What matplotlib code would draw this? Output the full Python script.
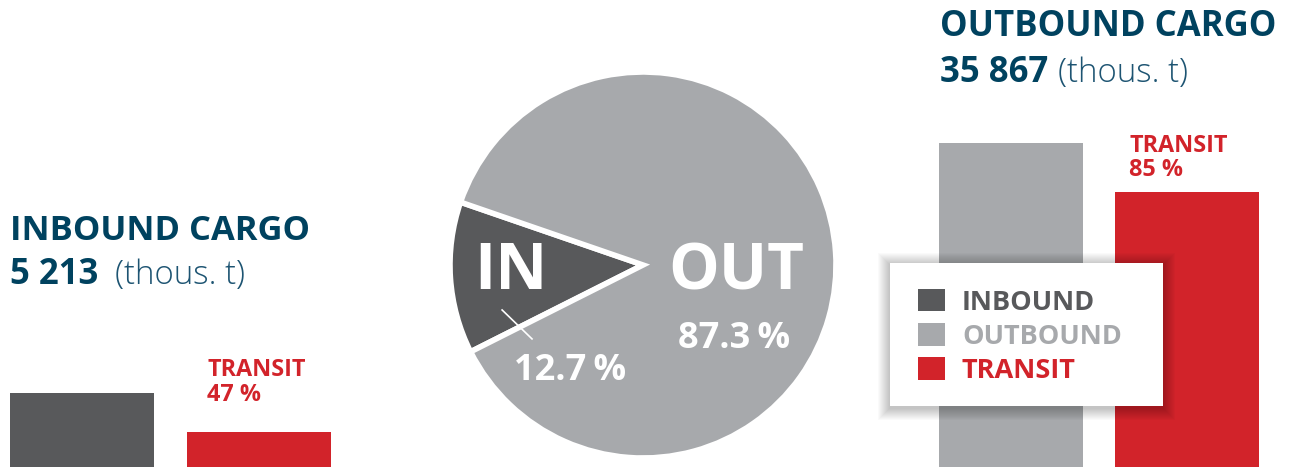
import matplotlib
matplotlib.use("Agg")
import matplotlib.pyplot as plt
from matplotlib.patches import Patch, FancyBboxPatch
from matplotlib.lines import Line2D

plt.rcParams['font.family'] = ['Open Sans', 'DejaVu Sans']

# data (thous. t)
inbound_total = 5213
outbound_total = 35867
inbound_transit_pct = 47
outbound_transit_pct = 85
share_labels = ['IN', 'OUT']
share_values = [12.7, 87.3]

inbound_bars = [inbound_total, inbound_total * inbound_transit_pct / 100]
outbound_bars = [outbound_total, outbound_total * outbound_transit_pct / 100]

navy = '#00425f'
navy_light = '#1d5472'
red = '#d2232a'
dark = '#58595b'
light = '#a7a9ac'

W, H = 1294, 467
fig = plt.figure(figsize=(W / 100, H / 100), dpi=100)

def fx(px):
    return px / W

def fy(py):
    return 1 - py / H

# left bars
axl = fig.add_axes([fx(10), 0, fx(321), 1])
axl.bar([0, 1], inbound_bars, width=144 / 177, color=[dark, red])
axl.set_xlim(-0.5 * 144 / 177, 1 + 0.5 * 144 / 177)
axl.set_ylim(0, inbound_total * H / 74)
axl.axis('off')

# right bars
axr = fig.add_axes([fx(939), 0, fx(320), 1])
axr.bar([0, 1], outbound_bars, width=144 / 176, color=[light, red])
axr.set_xlim(-0.5 * 144 / 176, 1 + 0.5 * 144 / 176)
axr.set_ylim(0, outbound_total * H / 324)
axr.axis('off')

# pie
r = 193
axp = fig.add_axes([fx(643 - r), fy(265 + r), fx(2 * r), 2 * r / H])
axp.pie(share_values, colors=[dark, light], startangle=161, counterclock=True,
        wedgeprops=dict(edgecolor='white', linewidth=4))
axp.set_xlim(-1, 1)
axp.set_ylim(-1, 1)
axp.set_aspect('auto')
axp.axis('off')

axp.text(-0.685, -0.04, share_labels[0], color='white', fontsize=46, fontweight='bold',
         ha='center', va='center')
axp.text(0.485, -0.04, share_labels[1], color='white', fontsize=46, fontweight='bold',
         ha='center', va='center')
axp.text(0.47, -0.43, f'{share_values[1]}\u2009%', color='white', fontsize=26,
         fontweight='bold', ha='center', va='baseline')
axp.text(-0.38, -0.595, f'{share_values[0]}\u2009%', color='white', fontsize=26,
         fontweight='bold', ha='center', va='baseline')
axp.add_line(Line2D([-0.73, -0.575], [-0.233, -0.383], color='white', lw=1.2))

# titles
fig.text(fx(10), fy(240), 'INBOUND CARGO', color=navy, fontsize=24.8, fontweight='bold', va='baseline')
fig.text(fx(10), fy(284), f'{inbound_total:,}'.replace(',', ' '), color=navy, fontsize=25,
         fontweight='bold', va='baseline')
fig.text(fx(115), fy(284), '(thous. t)', color=navy_light, fontsize=23.8, fontweight='light',
         va='baseline')
fig.text(fx(940), fy(36), 'OUTBOUND CARGO', color=navy, fontsize=25, fontweight='bold', va='baseline')
fig.text(fx(940), fy(82), f'{outbound_total:,}'.replace(',', ' '), color=navy, fontsize=25,
         fontweight='bold', va='baseline')
fig.text(fx(1058), fy(82), '(thous. t)', color=navy_light, fontsize=23.8, fontweight='light',
         va='baseline')

fig.text(fx(207), fy(376), 'TRANSIT', color=red, fontsize=16.8, fontweight='bold', va='baseline')
fig.text(fx(207), fy(401), f'{inbound_transit_pct} %', color=red, fontsize=16.8, fontweight='bold',
         va='baseline')
fig.text(fx(1129), fy(152), 'TRANSIT', color=red, fontsize=16.8, fontweight='bold', va='baseline')
fig.text(fx(1129), fy(176), f'{outbound_transit_pct} %', color=red, fontsize=16.8, fontweight='bold',
         va='baseline')

# legend box with soft shadow
bx0, by0, bx1, by1 = 890, 263, 1163, 406
for i in range(12, 0, -1):
    fig.patches.append(FancyBboxPatch((fx(bx0 - i), fy(by1 + i + 2)),
                                      fx(bx1 - bx0 + 2 * i), (by1 - by0 + 2 * i) / H,
                                      boxstyle='square,pad=0', transform=fig.transFigure,
                                      facecolor='black', edgecolor='none', alpha=0.018,
                                      zorder=3))
fig.patches.append(FancyBboxPatch((fx(bx0), fy(by1)), fx(bx1 - bx0), (by1 - by0) / H,
                                  boxstyle='square,pad=0', transform=fig.transFigure,
                                  facecolor='white', edgecolor='none', zorder=4))

legend_names = ['INBOUND', 'OUTBOUND', 'TRANSIT']
legend_colors = [dark, light, red]
handles = [Patch(facecolor=c, edgecolor='none') for c in legend_colors]
leg = fig.legend(handles, legend_names, loc='upper left', bbox_to_anchor=(fx(918), fy(289)),
                 frameon=False, handlelength=1.0, handleheight=0.9,
                 handletextpad=0.62, labelspacing=0.28, borderpad=0, borderaxespad=0,
                 prop=dict(weight='bold', size=19.5))
leg.set_zorder(5)
for t, c in zip(leg.get_texts(), legend_colors):
    t.set_color(c)

fig.savefig('out.png', dpi=100)
